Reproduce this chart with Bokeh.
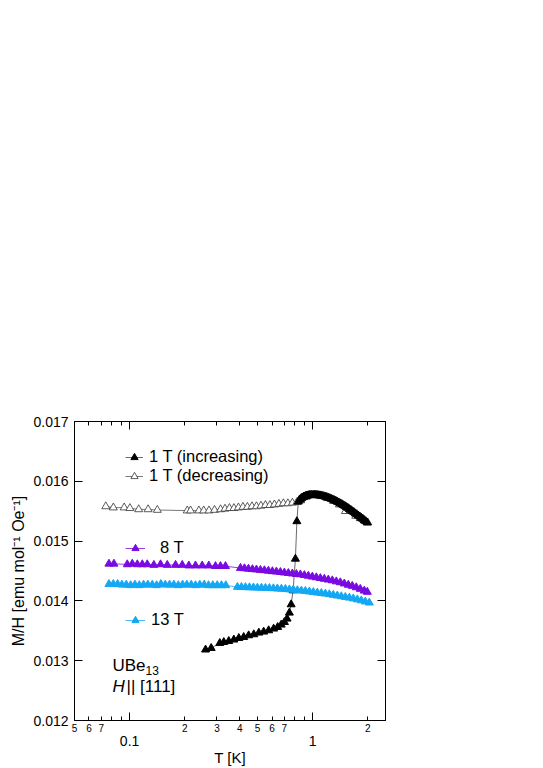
from bokeh.plotting import figure
from bokeh.models import (FixedTicker, LogAxis, LinearAxis, Legend, LegendItem, Label, Range1d)
from bokeh.embed import file_html
from bokeh.resources import INLINE

# ---------------- data ----------------
inc_T = [0.260, 0.279, 0.311, 0.327, 0.348, 0.371, 0.395, 0.420, 0.447, 0.477, 0.508, 0.540,
         0.575, 0.612, 0.644, 0.673, 0.701, 0.725, 0.746, 0.763, 0.782, 0.805, 0.820, 0.835,
         0.846, 0.857, 0.868, 0.879, 0.890, 0.901, 0.912, 0.924, 0.935, 0.947, 0.959, 0.971,
         0.990, 1.009, 1.028, 1.048, 1.068, 1.088, 1.109, 1.130, 1.151, 1.173, 1.195, 1.218,
         1.241, 1.265, 1.289, 1.313, 1.338, 1.364, 1.390, 1.416, 1.443, 1.471, 1.499, 1.527,
         1.556, 1.586, 1.616, 1.646, 1.678, 1.710, 1.742, 1.775, 1.809, 1.844, 1.879, 1.915,
         1.951, 1.988]
inc_v = [0.013184, 0.013210, 0.013294, 0.013310, 0.013327, 0.013351, 0.013377, 0.013394, 0.013422,
         0.013439, 0.013467, 0.013484, 0.013506, 0.013534, 0.013561, 0.013601, 0.013644, 0.013701,
         0.013801, 0.013940, 0.014174, 0.014703, 0.015330, 0.015659,
         0.015690, 0.015701, 0.015718, 0.015726, 0.015738, 0.015743, 0.015752, 0.015755, 0.015762,
         0.015763, 0.015770, 0.015768, 0.015775, 0.015771, 0.015776, 0.015770, 0.015770, 0.015763,
         0.015762, 0.015753, 0.015750, 0.015740, 0.015735, 0.015723, 0.015716, 0.015703, 0.015695,
         0.015681, 0.015671, 0.015656, 0.015645, 0.015629, 0.015617, 0.015599, 0.015587, 0.015568,
         0.015555, 0.015534, 0.015520, 0.015499, 0.015484, 0.015462, 0.015447, 0.015426, 0.015410,
         0.015387, 0.015371, 0.015349, 0.015330, 0.015309]

dec_T = [0.0741, 0.0815, 0.0934, 0.1004, 0.1121, 0.1262, 0.1417, 0.2065, 0.2153, 0.239, 0.254,
         0.2715, 0.291, 0.314, 0.332, 0.351, 0.3715, 0.393, 0.416, 0.440, 0.466, 0.493, 0.522,
         0.552, 0.584, 0.618, 0.654, 0.692, 0.732, 0.775, 0.820, 0.86, 0.92, 1.0, 1.1, 1.2, 1.3,
         1.4, 1.51, 1.6, 1.72, 1.82, 1.92, 2.0]
dec_v = [0.01558, 0.01556, 0.01556, 0.01555, 0.01553, 0.01553, 0.01552, 0.01551, 0.01551, 0.01551,
         0.01551, 0.01551, 0.01552, 0.01553, 0.01554, 0.01555, 0.01555, 0.01556, 0.01557, 0.01557,
         0.01558, 0.01558, 0.01559, 0.01560, 0.01560, 0.01561, 0.01562, 0.01563, 0.01563, 0.01564,
         0.01565, 0.01568, 0.01574, 0.01576, 0.01575, 0.01572, 0.01567, 0.01561, 0.01550, 0.01550,
         0.01542, 0.01538, 0.01534, 0.01531]

t8_T = [0.0771, 0.0821, 0.0971, 0.1034, 0.1102, 0.1173, 0.1249, 0.1357, 0.1476, 0.1606, 0.1782,
        0.1939, 0.2107, 0.2291, 0.2492, 0.2708, 0.2945, 0.3137, 0.3340, 0.4033, 0.4241, 0.4459,
        0.4688, 0.4930, 0.5185, 0.5451, 0.5732, 0.6027, 0.6338, 0.6664, 0.7007, 0.7368, 0.7749,
        0.8149, 0.8567, 0.9010, 0.9473, 0.9963, 1.0476, 1.1015, 1.1582, 1.2179, 1.2807, 1.3466,
        1.4160, 1.4891, 1.5658, 1.6465, 1.7313, 1.8205, 1.9144, 1.9880]
t8_v = [0.01462, 0.01462, 0.01461, 0.01462, 0.01461, 0.01461, 0.01461, 0.01460, 0.01461, 0.01460,
        0.01460, 0.01460, 0.01459, 0.01459, 0.01459, 0.01459, 0.01458, 0.01458, 0.01458, 0.014549,
        0.014543, 0.014536, 0.014529, 0.014523, 0.014516, 0.014510, 0.014503, 0.014494, 0.014488,
        0.014481, 0.014472, 0.014464, 0.014456, 0.014447, 0.014441, 0.014429, 0.014418, 0.014404,
        0.014392, 0.014379, 0.014367, 0.014354, 0.014341, 0.014324, 0.014309, 0.014289, 0.014267,
        0.014249, 0.014225, 0.014199, 0.014169, 0.014149]

t13_T = [0.0771, 0.0815, 0.0860, 0.0908, 0.0959, 0.1013, 0.1069, 0.1129, 0.1192, 0.1258, 0.1330,
         0.1404, 0.1482, 0.1566, 0.1653, 0.1745, 0.1844, 0.1946, 0.2054, 0.2171, 0.2291, 0.2417,
         0.2555, 0.2698, 0.2848, 0.3010, 0.3176, 0.3353,
         0.3883, 0.4083, 0.4293, 0.4515, 0.4747, 0.4992, 0.5249, 0.5521, 0.5804, 0.6103, 0.6418,
         0.6750, 0.7097, 0.7463, 0.7848, 0.8251, 0.8677, 0.9125, 0.9594, 1.0088, 1.0607, 1.1155,
         1.1731, 1.2334, 1.2969, 1.3638, 1.4341, 1.5078, 1.5855, 1.6672, 1.7535, 1.8440, 1.9390,
         2.0388]
t13_v = [0.01428, 0.01428, 0.01428, 0.01427, 0.01427, 0.01426, 0.01427, 0.01426, 0.01427, 0.01427,
         0.01427, 0.01426, 0.01428, 0.01427, 0.01427, 0.01427, 0.01426, 0.01427, 0.01427, 0.01427,
         0.01426, 0.01427, 0.01427, 0.01426, 0.01426, 0.01426, 0.01426, 0.01426,
         0.014232, 0.014230, 0.014227, 0.014225, 0.014222, 0.014220, 0.014217, 0.014215, 0.014212,
         0.014209, 0.014205, 0.014202, 0.014197, 0.014190, 0.014184, 0.014177, 0.014170, 0.014164,
         0.014155, 0.014145, 0.014137, 0.014129, 0.014120, 0.014110, 0.014099, 0.014087, 0.014075,
         0.014064, 0.014052, 0.014039, 0.014023, 0.014007, 0.013988, 0.013970]

x_major_ticks = [0.1, 1]
x_major_labels = ["0.1", "1"]
x_minor_ticks = [0.05, 0.06, 0.07, 0.08, 0.09, 0.2, 0.3, 0.4, 0.5, 0.6, 0.7, 0.8, 0.9, 2]
x_small_ticks = [0.05, 0.06, 0.07, 0.2, 0.3, 0.4, 0.5, 0.6, 0.7, 2]
x_small_labels = ["5", "6", "7", "2", "3", "4", "5", "6", "7", "2"]
y_ticks = [0.012, 0.013, 0.014, 0.015, 0.016, 0.017]
y_tick_labels = ["0.012", "0.013", "0.014", "0.015", "0.016", "0.017"]

FONT = "Liberation Sans"
PURPLE = "#7a0ae2"
CYAN = "#14a8f4"

p = figure(x_axis_type="log", x_range=Range1d(0.05, 2.5), y_range=Range1d(0.012, 0.017),
           frame_width=311, frame_height=299, min_border_left=74, min_border_top=421,
           min_border_right=15, min_border_bottom=46,
           output_backend="svg", toolbar_location=None)
p.outline_line_color = "black"
p.xgrid.visible = False
p.ygrid.visible = False

blank_x = {t: "" for t in x_major_ticks}
blank_y = {t: "" for t in y_ticks}

# main bottom axis (ticks only)
xa = p.xaxis[0]
xa.ticker = FixedTicker(ticks=x_major_ticks, minor_ticks=x_minor_ticks)
xa.major_tick_in = 8
xa.major_tick_out = 0
xa.minor_tick_in = 4
xa.minor_tick_out = 0
xa.major_label_overrides = blank_x
xa.major_label_text_font_size = "1px"
xa.major_label_standoff = 0
xa.axis_line_color = "black"
xa.major_tick_line_color = "black"
xa.minor_tick_line_color = "black"

# small digit labels
ax2 = LogAxis(ticker=FixedTicker(ticks=x_small_ticks, minor_ticks=[]),
              major_label_overrides=dict(zip(x_small_ticks, x_small_labels)),
              axis_line_color=None, major_tick_line_color=None, minor_tick_line_color=None,
              major_tick_in=0, major_tick_out=0, minor_tick_in=0, minor_tick_out=0,
              major_label_text_font_size="10px", major_label_text_font=FONT,
              major_label_standoff=3, major_label_text_color="black")
p.add_layout(ax2, "below")

# decade labels + title
ax3 = LogAxis(ticker=FixedTicker(ticks=x_major_ticks, minor_ticks=[]),
              major_label_overrides=dict(zip(x_major_ticks, x_major_labels)),
              axis_line_color=None, major_tick_line_color=None, minor_tick_line_color=None,
              major_tick_in=0, major_tick_out=0, minor_tick_in=0, minor_tick_out=0,
              major_label_text_font_size="14px", major_label_text_font=FONT,
              major_label_standoff=1, major_label_text_color="black",
              axis_label="T [K]", axis_label_text_font=FONT, axis_label_text_font_size="15px",
              axis_label_text_font_style="normal", axis_label_standoff=0,
              axis_label_text_color="black")
p.add_layout(ax3, "below")

# top axis
axt = LogAxis(ticker=FixedTicker(ticks=x_major_ticks, minor_ticks=x_minor_ticks),
              major_tick_in=8, major_tick_out=0, minor_tick_in=4, minor_tick_out=0,
              major_label_overrides=blank_x,
              major_label_text_font_size="1px", major_label_standoff=0,
              axis_line_color="black")
p.add_layout(axt, "above")

# left axis
ya = p.yaxis[0]
ya.ticker = FixedTicker(ticks=y_ticks, minor_ticks=[])
ya.major_label_overrides = dict(zip(y_ticks, y_tick_labels))
ya.major_tick_in = 8
ya.major_tick_out = 0
ya.minor_tick_line_color = None
ya.major_label_text_font = FONT
ya.major_label_text_font_size = "14px"
ya.major_label_text_color = "black"
ya.major_label_standoff = 6
ya.axis_label = "M/H [emu mol\u207b\u00b9 Oe\u207b\u00b9]"
ya.axis_label_text_font = FONT
ya.axis_label_text_font_size = "16px"
ya.axis_label_text_font_style = "normal"
ya.axis_label_text_color = "black"
ya.axis_label_standoff = 3
ya.axis_line_color = "black"

# right axis
axr = LinearAxis(ticker=FixedTicker(ticks=y_ticks, minor_ticks=[]),
                 major_tick_in=8, major_tick_out=0, minor_tick_line_color=None,
                 major_label_overrides=blank_y,
                 major_label_text_font_size="1px", major_label_standoff=0,
                 axis_line_color="black")
p.add_layout(axr, "right")

# series
r_dec_l = p.line(dec_T, dec_v, line_color="#555555", line_width=0.8)
r_dec = p.scatter(dec_T, dec_v, marker="triangle", size=8, fill_color="white",
                  line_color="#333333", line_width=0.8)
r_inc_l = p.line(inc_T, inc_v, line_color="#444444", line_width=0.8)
r_inc = p.scatter(inc_T, inc_v, marker="triangle", size=8, fill_color="black", line_color="black")
r8_l = p.line(t8_T, t8_v, line_color=PURPLE, line_width=0.8)
r8 = p.scatter(t8_T, t8_v, marker="triangle", size=8, fill_color=PURPLE, line_color=PURPLE)
r13_l = p.line(t13_T, t13_v, line_color=CYAN, line_width=0.8)
r13 = p.scatter(t13_T, t13_v, marker="triangle", size=8, fill_color=CYAN, line_color=CYAN)


def mk_legend(items, loc, gw, standoff):
    return Legend(items=items, location=loc, glyph_width=gw, glyph_height=18, label_height=18,
                  label_standoff=standoff, spacing=0, padding=0, margin=0,
                  border_line_color=None, background_fill_alpha=0,
                  label_text_font=FONT, label_text_font_size="16.5px", label_text_color="black")


p.add_layout(mk_legend([LegendItem(label="1 T (increasing)", renderers=[r_inc_l, r_inc]),
                        LegendItem(label="1 T (decreasing)", renderers=[r_dec_l, r_dec])],
                       (51, 235), 18, 6))
p.add_layout(mk_legend([LegendItem(label="8 T", renderers=[r8_l, r8])], (51, 163), 20, 15))
p.add_layout(mk_legend([LegendItem(label="13 T", renderers=[r13_l, r13])], (51, 91), 20, 6))


def lab(x, y, text, size, italic=False):
    p.add_layout(Label(x=x, y=y, x_units="screen", y_units="screen", text=text,
                       text_font=FONT, text_font_size=size, text_color="black",
                       text_font_style="italic" if italic else "normal",
                       text_baseline="middle", text_align="left"))


# sample annotation
lab(38, 55, "UBe", "17px")
lab(71, 50, "13", "12px")
lab(38, 34, "H", "17px", italic=True)
lab(52, 34, "|| [111]", "17px")

open("out.html", "w").write(file_html(p, INLINE))
